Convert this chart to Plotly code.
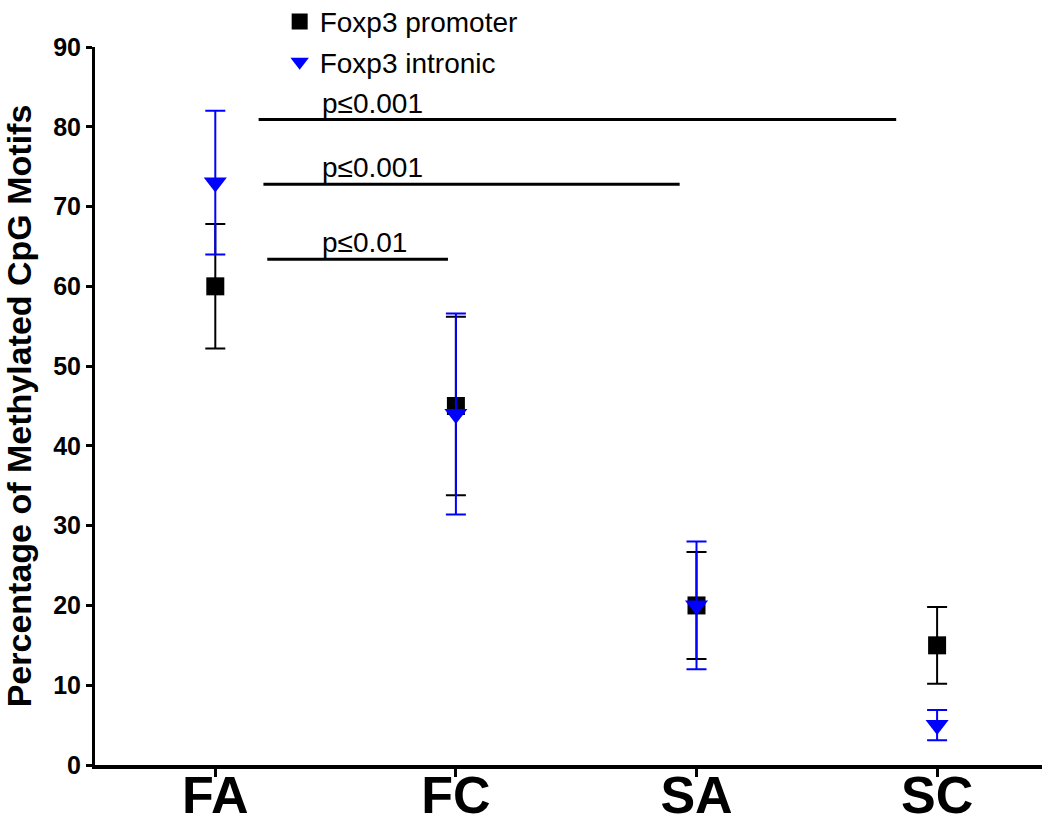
import plotly.graph_objects as go

categories = ["FA", "FC", "SA", "SC"]
promoter = [60.0, 45.0, 20.0, 15.0]
promoter_err = [7.8, 11.2, 6.7, 4.8]
intronic = [73.0, 44.0, 20.0, 5.0]
intronic_err = [9.0, 12.6, 8.0, 1.9]

sig_labels = ["p≤0.001", "p≤0.001", "p≤0.01"]
sig_y = [80.9, 72.8, 63.4]
sig_x0 = [0.18, 0.20, 0.216]
sig_x1 = [2.83, 1.93, 0.967]

xpos = list(range(len(categories)))

FONT = "Liberation Sans, Arial, sans-serif"

fig = go.Figure()
fig.add_trace(go.Scatter(
    x=xpos, y=promoter, mode="markers", name="Foxp3 promoter",
    legendgroup="a",
    marker=dict(symbol="square", size=18, color="black"),
    error_y=dict(type="data", array=promoter_err, color="black", thickness=2, width=10),
))
fig.add_trace(go.Scatter(
    x=xpos, y=intronic, mode="markers", name="Foxp3 intronic",
    legendgroup="b",
    marker=dict(symbol="triangle-down", size=20, color="#0000ff"),
    error_y=dict(type="data", array=intronic_err, color="#0000ff", thickness=2, width=10),
))

for lab, y, x0, x1 in zip(sig_labels, sig_y, sig_x0, sig_x1):
    fig.add_shape(type="line", x0=x0, x1=x1, y0=y, y1=y, xref="x", yref="y",
                  line=dict(color="black", width=3))
    fig.add_annotation(x=0.435, y=y, xref="x", yref="y", text=lab, showarrow=False,
                       xanchor="left", yanchor="bottom", yshift=-1,
                       font=dict(family=FONT, size=28, color="black"))

fig.update_layout(
    width=1042, height=825,
    margin=dict(l=95, r=0, t=47, b=60, autoexpand=False),
    plot_bgcolor="white", paper_bgcolor="white",
    showlegend=True,
    legend=dict(x=0.195, y=1.07, xanchor="left", yanchor="top",
                font=dict(family=FONT, size=28, color="black"),
                tracegroupgap=1, bgcolor="rgba(0,0,0,0)"),
    xaxis=dict(
        range=[-0.5, 3.436], tickmode="array", tickvals=xpos, ticktext=categories,
        showline=True, linecolor="black", linewidth=4, ticks="outside",
        ticklen=8, tickwidth=3, tickcolor="black", showgrid=False, zeroline=False,
        ticklabelstandoff=-26,
        tickfont=dict(family=FONT, size=52, color="black", weight="bold"),
    ),
    yaxis=dict(
        range=[0, 90], tickmode="array", tickvals=[0, 10, 20, 30, 40, 50, 60, 70, 80, 90],
        showline=True, linecolor="black", linewidth=3, ticks="outside",
        ticklen=6, tickwidth=3, tickcolor="black", showgrid=False, zeroline=False,
        tickfont=dict(family=FONT, size=25, color="black", weight="bold"),
        title=dict(text="Percentage of Methylated CpG Motifs", standoff=12,
                   font=dict(family=FONT, size=34, color="black", weight="bold")),
    ),
)

fig.write_html("out.html", config={"displayModeBar": False},
               post_script="document.body.style.margin='0px';document.body.style.overflow='hidden';")
